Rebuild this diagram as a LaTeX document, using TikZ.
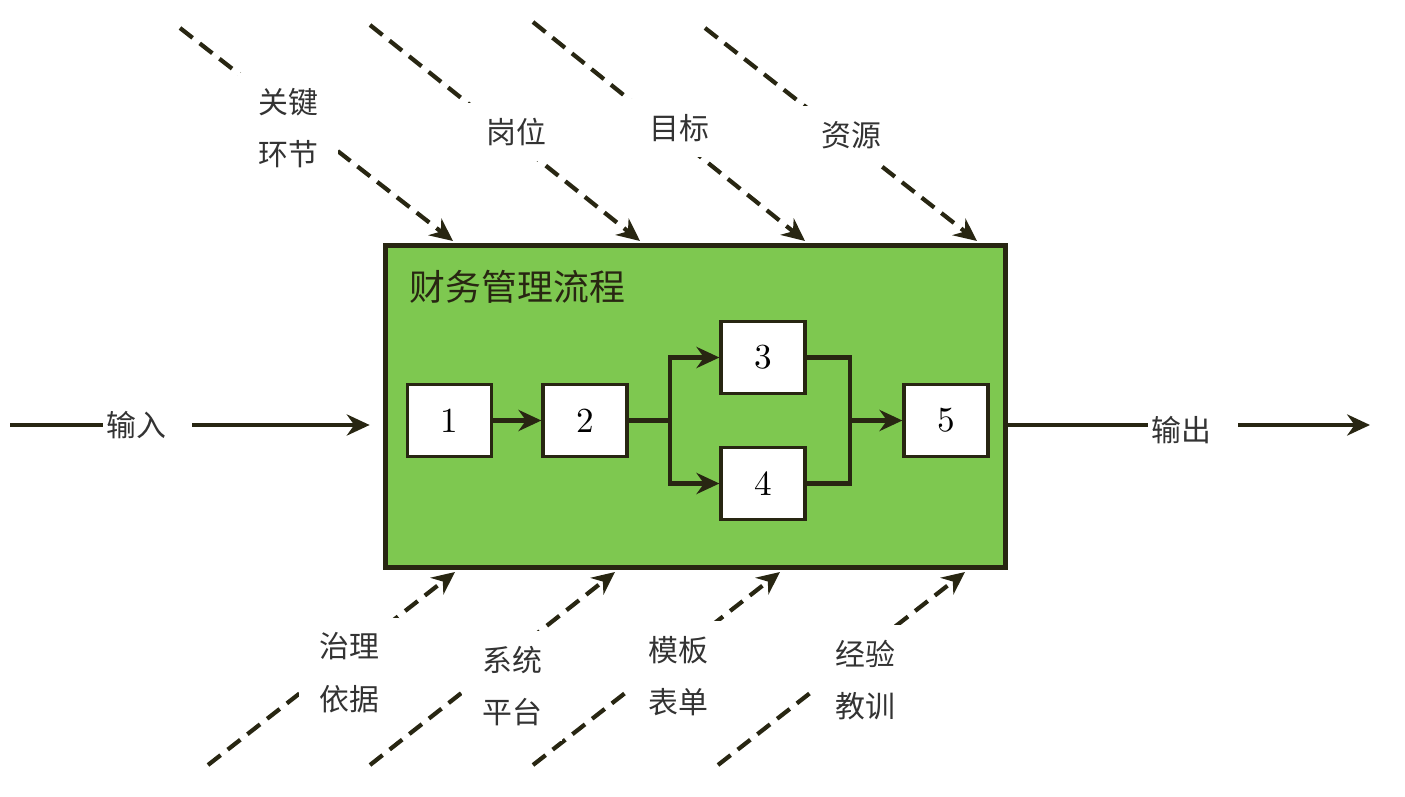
\documentclass[tikz,border=0pt]{standalone}
\usepackage{fontspec}
\usepackage{tikz}
\newfontfamily\cjk{Noto Sans CJK SC}
\usetikzlibrary{arrows.meta, calc, positioning}
\definecolor{ink}{RGB}{40,38,18}
\definecolor{procgreen}{RGB}{126,200,80}

\begin{document}
\begin{tikzpicture}[x=0.01cm, y=-0.01cm, >={Stealth[length=6.5pt, width=6pt]}]
	\tikzstyle{process} = [draw=ink, line width=1.5pt, fill=procgreen, minimum width=6.2cm, minimum height=3.22cm, inner sep=0pt]
	\tikzstyle{stage} = [draw=ink, line width=0.9pt, fill=white, minimum width=0.84cm, minimum height=0.72cm, inner sep=0pt, font=\fontsize{10}{12}\selectfont]
	\tikzstyle{factor} = [fill=white, inner xsep=0.2cm, inner ysep=0.15cm, align=center, text=black!80, font=\cjk\fontsize{8.5}{15}\selectfont]
	\tikzstyle{io} = [fill=white, inner xsep=0.04cm, inner ysep=0.12cm, align=left, text=black!80, font=\cjk\fontsize{8.5}{12}\selectfont]
	\tikzstyle{flow} = [->, draw=ink, line width=1.2pt]
	\tikzstyle{link} = [draw=ink, line width=1.2pt]
	\tikzstyle{hint} = [->, draw=ink, line width=1.2pt, dash pattern=on 0.16cm off 0.09cm]

	\useasboundingbox (0,0) rectangle (1405,797);

	% process box
	\node[process] (P) at (695.5,406.5) {};
	\node[anchor=west, inner sep=0pt, text=ink, font=\cjk\fontsize{10.2}{12}\selectfont] (T) at (409,287) {财务管理流程};

	\node[stage] (1) at (449.5,420.5) {1};
	\node[stage] (2) at (585,420.5) {2};
	\node[stage] (3) at (763,357.5) {3};
	\node[stage] (4) at (763,483.5) {4};
	\node[stage] (5) at (946,420.5) {5};

	\coordinate (fork) at (670,420.5);
	\coordinate (join) at (850,420.5);

	\draw[flow] (1) -- (2);
	\draw[link] (2) -- (fork);
	\draw[flow] (fork) |- (3);
	\draw[flow] (fork) |- (4);
	\draw[link] (3) -| (join);
	\draw[link] (4) -| (join);
	\draw[flow] (join) -- (5);

	% input and output
	\coordinate (in) at (10,425);
	\coordinate (out) at (1370,425);
	\draw[flow, shorten >=0.13cm] (in) -- (in -| P.west);
	\draw[flow] (P.east |- out) -- (out);

	% dashed influences
	\foreach \i/\sx/\sy/\ex in {1/180/28/453, 2/370/25/640, 3/533/22/805, 4/705/28/977} {
		\coordinate (t\i) at (\sx,\sy);
		\coordinate (u\i) at (\ex,241);
		\draw[hint] (t\i) -- (u\i);
	}
	\foreach \i/\sx/\ex in {1/208/455, 2/370/615, 3/533/780, 4/718/965} {
		\coordinate (b\i) at (\sx,765);
		\coordinate (v\i) at (\ex,572);
		\draw[hint] (b\i) -- (v\i);
	}

	% labels
	\node[io, text width=0.81cm] (inL) at (147.5,425) {输入};
	\node[io, text width=0.82cm] (outL) at (1193,430) {输出};

	\node[factor] (k1) at (288,128) {关键\\环节};
	\node[factor] (k2) at (516,132) {岗位};
	\node[factor] (k3) at (679,128) {目标};
	\node[factor] (k4) at (851,135) {资源};

	\node[factor] (d1) at (349,673) {治理\\依据};
	\node[factor] (d2) at (512,686) {系统\\平台};
	\node[factor] (d3) at (678,676) {模板\\表单};
	\node[factor] (d4) at (865,680) {经验\\教训};
\end{tikzpicture}
\end{document}
